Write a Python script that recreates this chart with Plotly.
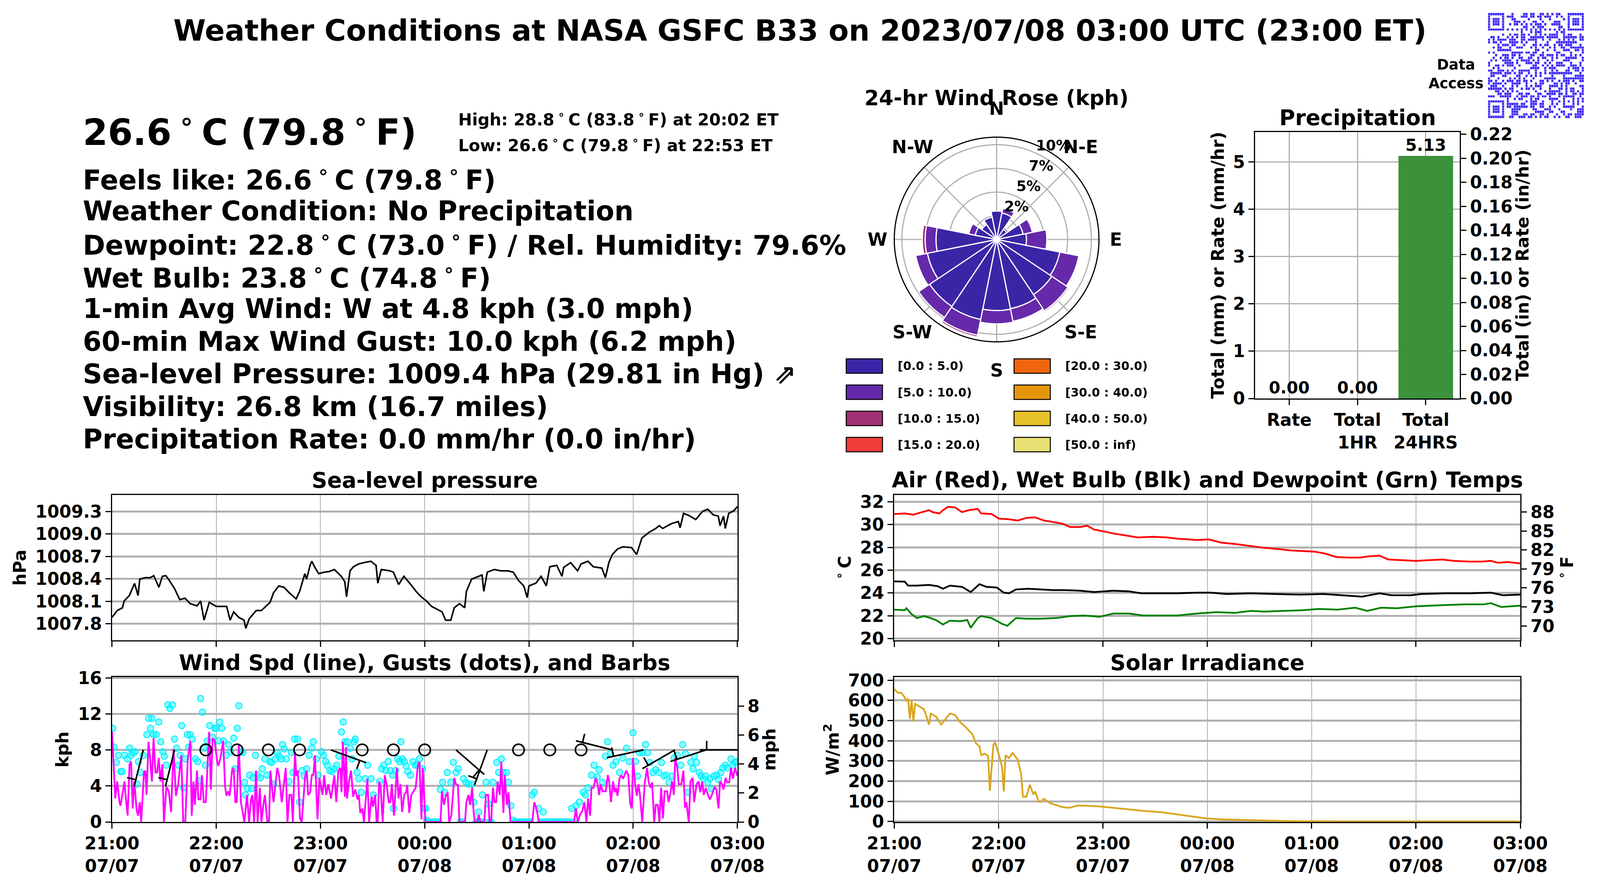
import math
import pandas as pd
import plotly.graph_objects as go

# the page is photographed in a 4096 px wide viewport; positions below are read
# off the 4500x2250 reference and mapped to paper fractions
W_REF, H = 4500, 2250
W = 4096
SX = W / W_REF
FS = 0.92  # font scale so horizontal text extents keep their proportions
FAM = "DejaVu Sans"
start = pd.Timestamp("2023-07-07 21:00")

# ---------------- data ----------------
p_min = [0, 3, 6, 7, 10, 13, 15, 16, 19, 22, 24, 27, 29, 31, 33, 36, 39, 42, 45, 49, 51, 53, 56, 60,
         63, 66, 68, 70, 73, 76, 77, 79, 83, 86, 91, 93, 96, 99, 102, 106, 108, 111, 112, 114, 115,
         117, 119, 122, 125, 128, 132, 134, 135, 137, 139, 142, 145, 149, 152, 153, 155, 160, 162,
         165, 168, 172, 175, 178, 181, 184, 187, 190, 192, 195, 197, 200, 203, 204, 207, 211, 213,
         214, 216, 220, 224, 228, 231, 234, 237, 239, 240, 244, 247, 250, 252, 256, 259, 260, 264,
         268, 270, 274, 277, 282, 284, 286, 288, 291, 294, 299, 302, 305, 309, 313, 315, 317, 322,
         326, 327, 329, 332, 336, 340, 343, 346, 349, 350, 352, 353, 355, 358, 360]
p_hpa = [1007.886, 1007.977, 1008.014, 1008.105, 1008.178, 1008.340, 1008.178, 1008.397, 1008.416,
         1008.416, 1008.443, 1008.288, 1008.434, 1008.443, 1008.379, 1008.270, 1008.123, 1008.142,
         1008.069, 1008.040, 1008.105, 1007.849, 1008.087, 1008.032, 1008.032, 1008.032, 1007.849,
         1007.959, 1007.886, 1007.849, 1007.740, 1007.868, 1007.977, 1007.977, 1008.087, 1008.215,
         1008.306, 1008.288, 1008.215, 1008.133, 1008.233, 1008.470, 1008.397, 1008.580, 1008.635,
         1008.544, 1008.470, 1008.489, 1008.498, 1008.525, 1008.434, 1008.361, 1008.160, 1008.507,
         1008.562, 1008.599, 1008.617, 1008.635, 1008.580, 1008.343, 1008.525, 1008.507, 1008.489,
         1008.324, 1008.434, 1008.324, 1008.233, 1008.160, 1008.105, 1008.032, 1007.996, 1007.959,
         1007.849, 1007.849, 1008.014, 1008.069, 1008.014, 1008.233, 1008.397, 1008.434, 1008.452,
         1008.233, 1008.489, 1008.525, 1008.507, 1008.507, 1008.489, 1008.379, 1008.306, 1008.151,
         1008.306, 1008.343, 1008.434, 1008.306, 1008.562, 1008.580, 1008.434, 1008.553, 1008.617,
         1008.507, 1008.599, 1008.635, 1008.562, 1008.544, 1008.416, 1008.617, 1008.726, 1008.799,
         1008.827, 1008.818, 1008.726, 1008.946, 1009.019, 1009.073, 1009.110, 1009.073, 1009.137,
         1009.165, 1009.083, 1009.274, 1009.247, 1009.192, 1009.302, 1009.329, 1009.256, 1009.238,
         1009.110, 1009.238, 1009.073, 1009.274, 1009.311, 1009.366]

wind_min = [0, 1.9, 3, 4.3, 4.9, 6, 7.2, 7.8, 9, 10.1, 11, 11.9, 12.8, 14.2, 15, 16, 16.8, 18.4, 19.2,
            19.9, 21, 21.9, 23, 23.9, 25, 26, 26.9, 27.9, 29, 29.9, 31.3, 32.7, 34, 35.4, 36.8, 38.1,
            39.9, 41, 42.2, 43.6, 45.1, 45.9, 46.9, 47.7, 48.9, 49.7, 50.9, 51.8, 52.8, 54, 55.9,
            56.9, 57.9, 59.1, 60.6, 61.2, 62.4, 64, 65.1, 65.9, 66.9, 67.7, 69.1, 70, 71, 71.8, 73,
            74.2, 75.1, 76.2, 77.7, 78.9, 80, 80.8, 81.8, 82.9, 83.8, 85.1, 86, 86.9, 88, 89.4, 90.4,
            91.2, 92.1, 93, 93.9, 95.1, 96.2, 97.7, 100, 101, 102.1, 103.3, 104.1, 105.3, 106.1, 107,
            108.2, 109.2, 111.2, 112.1, 112.9, 114.1, 115, 115.9, 116.8, 118.3, 119.4, 121.2, 122.1,
            123.3, 124.5, 126.1, 128, 129.1, 130.3, 131.5, 132.1, 132.9, 134.1, 134.7, 135.3, 136.4,
            137.6, 138.8, 140, 141.4, 142.1, 142.9, 144.1, 145, 147, 148, 149.4, 150.3, 151.5, 152.3,
            152.9, 153.8, 154.6, 155.8, 157, 158.1, 159.3, 160.2, 161.1, 162.3, 164, 164.9, 166, 167,
            168.2, 169.3, 169.9, 171.1, 172.3, 174, 174.8, 176, 177, 178.1, 178.9, 180.4,
            189.1, 189.9, 191.1, 192, 193.2, 194.1, 195.3, 197, 197.9, 199.1, 200, 203.2, 204, 205.2,
            206.1, 207.3, 208.2, 209, 210.2, 211.1, 212, 214.3, 215.2, 216.5, 217.3, 218.2, 219.3,
            220.2, 221.1, 222, 223.2, 224.1, 225.3, 226.1, 227.3, 228.2, 229.4, 241.9, 243.1, 244.3,
            245.8, 266, 267, 268.1, 269.6, 270.7, 271.9, 273.1, 274, 275.2, 276, 277.2, 278.4, 279.5,
            280.4, 281.3, 282.3, 284.2, 285.4, 286.2, 287.2, 288.4, 289.3, 290.1, 291, 292.1, 293.1,
            294.2, 296, 297.2, 298.3, 299.2, 299.9, 301.1, 302.1, 303, 303.9, 305.2, 306.6, 308, 308.9,
            310.1, 310.9, 312.1, 313, 314.2, 315.1, 316.1, 317.1, 318.1, 319.5, 320.4, 321.5, 322.4,
            323.4, 324.2, 325.4, 326.2, 327.7, 328.9, 329.8, 330.6, 332, 333, 334.2, 335.1, 336.5,
            337.7, 338.6, 339.8, 340.6, 341.8, 343, 344.2, 345.3, 346.9, 347.9, 349.1, 350, 351.2, 352,
            353.2, 354.1, 355.3, 356.3, 357.4, 358.6, 360]
wind_kph = [10.0, 2.6, 4.5, 2.2, 1.8, 3.0, 4.5, 3.0, 0.7, 6.4, 6.7, 1.5, 4.5, 1.3, 0.7, 2.2, 0, 5.5, 5.7,
            3.0, 8.9, 7.1, 4.5, 9.3, 5.5, 5.5, 7.1, 4.5, 6.4, 0, 3.9, 3.4, 1.1, 8.1, 2.9, 4.2,
            7.4, 0, 0, 7.0, 9.0, 0.7, 4.5, 1.9, 5.7, 2.5, 2.5, 5.2, 2.2, 2.2, 10.0,
            3.6, 9.3, 9.0, 6.7, 6.2, 7.1, 9.0, 3.9, 2.9, 3.4, 2.9, 5.7, 6.0, 2.2, 2.2, 8.6,
            2.2, 1.3, 0, 3.0, 0, 2.5, 3.0, 0, 5.7, 0, 3.8, 0, 1.6, 3.0, 0, 0,
            5.7, 3.8, 2.2, 3.8, 6.0, 5.1, 2.2, 6.0, 0, 3.0, 3.0, 0, 7.8, 5.1, 5.7,
            0.4, 0, 5.1, 5.7, 3.0, 3.3, 5.2, 5.2, 7.4, 0.3, 4.9, 3.0, 5.2,
            3.0, 4.2, 2.6, 5.2, 2.2, 5.7, 6.0, 3.3, 8.9, 2.8, 8.3, 2.6, 4.5,
            5.7, 2.8, 3.6, 2.5, 3.0, 1.0, 1.5, 0, 4.8, 0, 2.8, 1.7, 3.0, 0,
            0, 4.5, 3.9, 0, 5.2, 4.1, 2.2, 2.2, 4.2, 0.7, 6.0, 2.6, 4.2, 1.1,
            3.0, 3.3, 4.1, 1.0, 3.0, 3.6, 3.8, 6.2, 6.7, 0.3, 6.0, 0,
            0, 3.4, 1.9, 2.8, 3.3, 0, 0.7, 4.9, 4.2, 4.1, 0, 0, 2.2, 3.0,
            1.9, 3.8, 1.0, 0, 0, 0.8, 0, 0, 3.0, 3.0, 0, 0, 3.8,
            2.2, 2.2, 4.5, 3.0, 6.7, 1.0, 5.2, 1.9, 3.3, 0, 0, 2.2, 1.5,
            0, 0, 1.5, 0, 0.9, 1.2, 2.2, 0, 2.6, 0.7, 3.8, 3.8, 4.9, 4.2,
            3.0, 4.2, 3.4, 3.4, 5.2, 4.5, 2.2, 4.5, 3.3, 3.8, 2.9, 4.8, 5.2,
            4.8, 5.7, 5.2, 2.0, 1.5, 7.1, 4.2, 2.9, 4.2, 3.0, 0, 4.2, 6.0, 4.4,
            3.8, 4.4, 0, 1.9, 1.9, 0, 3.8, 0.4, 3.4, 3.4, 2.2, 3.3, 4.5,
            3.0, 7.1, 6.0, 4.2, 4.2, 5.7, 1.6, 2.2, 0, 4.5, 4.9, 2.2, 4.2,
            4.5, 3.3, 4.5, 3.0, 3.8, 3.0, 2.5, 3.0, 3.9, 3.6, 1.5, 4.5, 4.2, 3.6,
            4.9, 4.4, 4.4, 6.0, 4.8, 6.0, 5.1]

gust_min = [0.4, 1.3, 2.5, 3.7, 5.1, 5.8, 7.2, 9.0, 10.1, 11.0, 12.1, 13.3, 14.3, 15.2, 16.4, 18.0,
            20.1, 21.1, 22.2, 23.0, 23.9, 25.4, 26.9, 28.0, 29.3, 30.1, 31.3, 32.1, 33.3, 34.8, 36.0,
            37.2, 38.3, 39.2, 40.1, 41.3, 42.2, 43.4, 44.2, 45.1, 46.2, 48.1, 49.3, 50.3, 51.0, 52.1,
            53.0, 53.8, 54.8, 56.2, 57.9, 59.1, 60.0, 61.2, 62.0, 63.2, 64.2, 65.6, 67.1, 68.3, 70.1,
            70.6, 72.1, 73.0, 74.2, 75.3, 76.2, 76.8, 77.9, 79.2, 80.3, 81.2, 82.6, 83.8, 85.3, 86.5,
            88.0, 89.1, 90.9, 91.8, 93.0, 94.1, 95.1, 96.2, 97.4, 98.2, 99.2, 100.3, 101.8, 103.2,
            104.1, 105.1, 106.8, 108.0, 109.4, 110.6, 112.1, 113.5, 114.9, 115.9, 117.6, 118.8, 120.6,
            121.8, 123.0, 123.9, 125.3, 126.5, 127.9, 129.2, 130.6, 132.1, 133.1, 134.0, 135.5, 137.0,
            138.2, 139.4, 140.0, 141.1, 142.1, 143.5, 145.8, 147.2, 149.1, 150.5, 154.1, 155.2, 156.4,
            157.6, 159.0, 160.2, 161.5, 162.0, 163.2, 164.4, 165.6, 166.3, 167.2, 168.2, 169.3, 170.3,
            171.8, 173.2, 174.6, 175.8, 177.0, 178.7, 179.7, 180.5, 181.1, 182, 183, 184, 185, 186,
            187, 188, 189.1, 190.3, 191.4, 193.0, 195.0, 196.5, 198.1, 199.3, 200.5, 201.5, 202.4,
            203.8, 205.2, 207.3, 208.2, 209.5, 210.3, 211.1, 212, 213.2, 214.2, 215.3, 216.7, 217.5,
            218.3, 219.3, 221.4, 222.6, 224.1, 225.2, 227.0, 228.2, 229.6, 230.8, 232, 233, 234, 235,
            236, 237, 238, 239, 240, 241, 241.9, 243.1, 245.5, 246.5, 247.3, 248.2, 249, 250, 251, 252,
            253, 254, 255, 256, 257, 258, 259, 260, 261, 262, 263, 264.6, 265.5, 267.0, 269.0, 271.3,
            272.5, 274.0, 276.0, 277.5, 279.3, 280.4, 282.3, 284.0, 285.2, 286.9, 288.4, 290.1, 292.2,
            294.0, 296.2, 297.8, 299.9, 301.3, 302.5, 303.6, 305.4, 307.1, 308.3, 309.5, 311.3, 313.0,
            314.8, 316.3, 317.7, 319.1, 320.7, 322.4, 323.6, 325.4, 327.4, 328.5, 330.1, 331.6, 333.2,
            334.4, 335.3, 336.5, 338.0, 339.1, 340.3, 341.8, 343.0, 344.2, 345.1, 346.5, 348.0, 349.2,
            350.4, 351.6, 353.0, 354.1, 356.3, 357.4, 358.6, 359.4]
gust_kph = [10.4, 8.3, 6.6, 7.4, 5.6, 5.6, 7.4, 7.0, 8.2, 7.4, 7.7, 7.8, 4.2, 6.7, 5.5, 7.4,
            9.7, 11.5, 10.4, 11.5, 9.7, 9.7, 11.1, 8.9, 7.8, 7.3, 6.3, 13.0, 12.6, 13.0, 9.2,
            8.2, 6.3, 7.4, 10.7, 3.8, 7.0, 9.7, 8.3, 9.7, 9.2, 7.0, 6.7, 4.6, 13.7, 12.2,
            8.2, 6.3, 9.0, 10.7, 9.4, 10.4, 10.4, 9.0, 11.1, 10.4, 9.0, 7.4, 8.6, 7.8, 9.3,
            5.9, 10.4, 12.9, 7.8, 7.7, 4.4, 3.0, 3.7, 5.2, 3.7, 4.9, 7.4, 5.2, 4.9, 5.9,
            7.0, 5.2, 6.7, 6.6, 4.2, 7.0, 7.7, 7.3, 7.0, 8.6, 8.1, 7.0, 4.5, 7.7,
            5.5, 9.2, 9.2, 2.2, 5.7, 5.1, 5.9, 7.4, 8.2, 8.9, 7.0, 5.2, 7.8,
            7.4, 6.7, 6.3, 5.7, 5.6, 5.9, 6.3, 7.3, 10.0, 11.1, 8.9, 8.9, 8.2,
            7.0, 8.9, 9.2, 5.5, 4.8, 3.3, 4.8, 6.3, 4.8, 3.0, 4.5, 5.9, 6.3,
            5.7, 6.7, 5.7, 5.2, 1.5, 5.7, 7.0, 6.7, 8.9, 7.0, 6.7, 6.2, 5.6,
            5.2, 6.7, 6.3, 6.3, 7.0, 5.9, 1.5, 1.5, 0.2, 0, 0, 0, 0, 0,
            0, 0, 3.6, 4.4, 3.3, 5.5, 4.4, 6.6, 5.5, 5.9, 0, 0, 4.8,
            4.4, 4.2, 4.2, 2.2, 0, 0, 1.1, 0, 3.0, 0, 4.4, 2.0, 0,
            0, 4.4, 6.6, 5.5, 7.0, 5.5, 5.5, 4.4, 1.8, 0.2, 0, 0, 0, 0,
            0, 0, 0, 0, 0, 0, 3.0, 3.3, 1.5, 0, 0, 1.1, 0, 0, 0, 0,
            0, 0, 0, 0, 0, 0, 0, 0, 0, 0, 0, 1.5, 0, 1.8, 2.2, 3.3,
            3.0, 3.8, 5.2, 6.3, 5.0, 5.8, 4.4, 7.3, 8.9, 7.6, 6.3, 6.7, 5.5,
            7.1, 8.2, 6.7, 9.9, 6.7, 5.1, 7.7, 7.7, 8.6, 7.7, 6.6, 5.5, 5.8,
            5.5, 6.6, 5.1, 5.2, 4.4, 5.1, 7.1, 7.4, 6.3, 8.6, 7.6, 3.3, 6.6,
            5.9, 7.3, 6.6, 5.5, 5.1, 4.8, 5.1, 4.4, 4.8, 3.7, 5.1, 5.2, 4.7,
            5.5, 6.0, 6.3, 6.0, 7.0, 6.3, 6.6, 6.7]

barb_min = [18, 36, 54, 72, 90, 108, 126, 144, 162, 180, 198, 216, 234, 252, 270, 288, 306, 324, 342, 360]
barb_dir = [194, 194, None, None, None, None, 110, None, None, None, 131, 200, None, None, None,
            284, 258, 240, 252, 270]

air_min = [0, 6, 11, 15, 20, 22, 26, 28, 31, 35, 39, 43, 48, 50, 56, 60, 66, 71, 76, 81, 86, 91, 97,
           101, 107, 111, 115, 121, 126, 133, 140, 149, 157, 163, 174, 181, 188, 196, 205, 213, 221,
           228, 235, 242, 248, 254, 261, 268, 273, 279, 284, 291, 300, 307, 315, 322, 331, 338, 343,
           347, 353, 360]
air_c = [30.93, 30.98, 30.87, 31.04, 31.27, 31.10, 30.98, 31.27, 31.56, 31.50, 31.10, 31.27, 31.38,
         30.98, 30.93, 30.53, 30.47, 30.36, 30.59, 30.64, 30.36, 30.24, 30.07, 29.79, 29.79, 29.90,
         29.56, 29.39, 29.22, 29.05, 28.87, 28.93, 28.87, 28.76, 28.65, 28.70, 28.42, 28.30, 28.13,
         27.96, 27.85, 27.73, 27.68, 27.62, 27.45, 27.16, 27.11, 27.11, 27.22, 27.28, 26.94, 26.88,
         26.82, 26.88, 26.94, 26.82, 26.76, 26.76, 26.82, 26.65, 26.71, 26.59]
wetb_min = [0, 6, 8, 13, 20, 25, 28, 32, 39, 44, 49, 53, 59, 63, 66, 70, 77, 84, 91, 98, 107, 115, 126,
            135, 142, 151, 163, 174, 182, 191, 205, 219, 233, 247, 261, 269, 279, 286, 297, 303, 317,
            331, 343, 350, 360]
wetb_c = [25.02, 25.00, 24.65, 24.65, 24.71, 24.60, 24.37, 24.65, 24.54, 24.08, 24.77, 24.54, 24.48,
          24.03, 23.97, 24.31, 24.37, 24.31, 24.25, 24.25, 24.20, 24.08, 24.20, 24.14, 23.97, 23.97,
          23.97, 24.03, 24.03, 23.91, 23.97, 23.91, 23.86, 23.91, 23.74, 23.68, 23.97, 23.80, 23.80,
          23.91, 23.97, 23.97, 24.03, 23.80, 23.86]
dewp_min = [0, 6, 7, 10, 13, 17, 21, 24, 28, 32, 38, 42, 44, 48, 50, 56, 62, 65, 70, 76, 84, 93, 101,
            109, 118, 126, 135, 143, 151, 163, 174, 185, 196, 205, 213, 224, 235, 244, 255, 265, 272,
            280, 289, 300, 308, 317, 328, 339, 343, 349, 360]
dewp_c = [22.54, 22.49, 22.66, 22.14, 21.80, 21.97, 21.80, 21.63, 21.23, 21.57, 21.52, 21.63, 20.95,
          21.80, 21.97, 21.80, 21.29, 21.12, 21.80, 21.74, 21.74, 21.80, 21.97, 22.03, 21.91, 22.20,
          22.20, 22.03, 22.03, 22.03, 22.20, 22.32, 22.26, 22.43, 22.37, 22.43, 22.49, 22.60, 22.54,
          22.71, 22.43, 22.71, 22.66, 22.83, 22.89, 22.94, 23.00, 23.00, 23.11, 22.77, 22.89]

sol_min = [0, 2, 4, 6, 7, 8, 9, 10, 11, 12, 14, 17, 18, 20, 21, 24, 27, 29, 32, 35, 38, 41, 45, 47, 49,
           50, 52, 54, 55, 57, 58, 60, 62, 63, 64, 66, 68, 71, 73, 74, 76, 78, 80, 81, 83, 84, 86, 90,
           93, 97, 101, 105, 109, 118, 126, 135, 143, 154, 163, 171, 179, 188, 199, 210, 224, 240,
           261, 360]
sol_w = [657, 638, 638, 616, 598, 609, 509, 601, 495, 583, 572, 557, 535, 480, 535, 520, 480, 502, 535,
         528, 491, 469, 432, 388, 373, 329, 336, 325, 152, 380, 392, 336, 270, 149, 329, 314, 340,
         307, 233, 123, 123, 182, 134, 149, 101, 97, 112, 90, 82, 71, 68, 79, 79, 75, 68, 60, 53, 46,
         35, 27, 16, 11, 8, 5, 3, 1, 0, 0]

precip_cat = ["Rate", "Total<br>1HR", "Total<br>24HRS"]
precip_mm = [0.0, 0.0, 5.13]

rose_theta = [0, 22.5, 45, 67.5, 90, 112.5, 135, 157.5, 180, 202.5, 225, 247.5, 270, 292.5, 315, 337.5]
rose_bins = ["[0.0 : 5.0)", "[5.0 : 10.0)", "[10.0 : 15.0)", "[15.0 : 20.0)",
             "[20.0 : 30.0)", "[30.0 : 40.0)", "[40.0 : 50.0)", "[50.0 : inf)"]
rose_colors = ["#3b25a6", "#6529aa", "#a03174", "#ee3d37", "#f0650f", "#e5960b", "#e6c22b", "#e6e172"]
rose_pct = [
    [3.0, 2.85, 1.3, 2.85, 3.15, 6.8, 7.0, 7.45, 7.5, 8.6, 8.5, 7.45, 6.4, 2.3, 1.9, 2.4],
    [0, 0.5, 0.2, 1.0, 2.15, 2.05, 2.05, 1.35, 1.4, 1.7, 1.4, 1.25, 1.15, 0.7, 0, 0],
    [0, 0, 0, 0, 0, 0, 0.15, 0, 0, 0.2, 0, 0, 0.3, 0, 0, 0],
    [0] * 16, [0] * 16, [0] * 16, [0] * 16, [0] * 16,
]
rose_rticks = [2.5, 5, 7.5, 10]
rose_rlabels = ["2%", "5%", "7%", "10%"]
compass_deg = [0, 45, 90, 135, 180, 225, 270, 315]
compass_txt = ["N", "N-E", "E", "S-E", "S", "S-W", "W", "N-W"]

qr_rows = [
    [0, 1, 2, 3, 4, 5, 6, 10, 15, 16, 18, 19, 22, 23, 25, 27, 29, 30, 34, 35, 36, 37, 38, 39, 40],
    [0, 6, 8, 9, 10, 14, 15, 16, 18, 19, 21, 22, 24, 25, 26, 29, 31, 34, 40],
    [0, 2, 3, 4, 6, 10, 11, 17, 22, 26, 32, 34, 36, 37, 38, 40],
    [0, 2, 3, 4, 6, 11, 12, 13, 15, 19, 20, 23, 28, 29, 30, 34, 36, 37, 38, 40],
    [0, 2, 3, 4, 6, 9, 11, 12, 14, 16, 18, 20, 21, 22, 24, 27, 28, 29, 30, 34, 36, 37, 38, 40],
    [0, 6, 15, 16, 19, 21, 22, 23, 30, 31, 34, 40],
    [0, 1, 2, 3, 4, 5, 6, 8, 10, 12, 14, 16, 18, 20, 22, 24, 26, 28, 30, 32, 34, 35, 36, 37, 38, 39, 40],
    [14, 18, 20, 21, 22, 29, 31, 32],
    [6, 9, 11, 12, 14, 15, 17, 20, 22, 24, 26, 27, 28, 29, 32, 34, 35, 39],
    [1, 2, 4, 8, 10, 12, 14, 15, 18, 19, 20, 21, 22, 23, 25, 26, 27, 28, 29, 32, 33, 34, 35, 36, 37, 39, 40],
    [0, 2, 4, 5, 6, 7, 9, 10, 11, 14, 15, 17, 18, 19, 20, 23, 26, 30, 32, 34, 36, 39, 40],
    [0, 2, 3, 5, 9, 10, 11, 12, 14, 16, 20, 25, 29, 30, 31, 32, 33, 34, 35, 36, 37],
    [4, 6, 7, 8, 10, 11, 15, 19, 20, 22, 24, 25, 28, 30, 31, 33, 34, 35, 39],
    [2, 4, 5, 9, 12, 13, 14, 18, 20, 23, 26, 28, 31, 32, 35, 36, 37, 38, 39, 40],
    [4, 5, 6, 7, 8, 9, 20, 21, 25, 28, 32, 33, 34, 37, 38, 40],
    [0, 2, 10, 11, 12, 13, 14, 16, 17, 19, 20, 23, 29, 30, 35, 40],
    [3, 6, 7, 8, 10, 11, 13, 18, 19, 22, 23, 25, 26, 27, 29, 31, 32, 35, 37, 39],
    [2, 5, 7, 8, 10, 13, 14, 17, 18, 21, 23, 24, 27, 29, 33, 34, 35, 36, 37, 40],
    [1, 3, 6, 7, 8, 9, 12, 14, 15, 16, 17, 19, 21, 25, 27, 32, 33, 34, 40],
    [0, 7, 8, 9, 10, 12, 16, 17, 18, 20, 21, 24, 26, 29, 30, 31, 35, 39],
    [0, 3, 4, 6, 8, 9, 10, 13, 19, 20, 23, 25, 27, 29, 30, 31, 32, 35, 36, 37, 39],
    [2, 4, 11, 18, 19, 20, 21, 24, 26, 27, 28, 34, 36, 37, 38, 40],
    [0, 1, 4, 5, 6, 8, 10, 13, 14, 15, 16, 17, 20, 24, 27, 29, 33, 34, 37, 38, 40],
    [1, 2, 3, 4, 5, 7, 8, 9, 11, 13, 14, 17, 20, 22, 24, 26, 27, 28, 29, 30, 31, 32, 33, 34, 35, 39],
    [1, 2, 6, 7, 12, 13, 16, 18, 20, 22, 27, 32, 37, 38, 39, 40],
    [0, 4, 9, 11, 13, 15, 19, 24, 25, 26, 27, 28, 32, 33, 34, 35, 36, 37, 38, 39, 40],
    [0, 1, 3, 6, 8, 9, 10, 12, 13, 15, 16, 18, 22, 23, 25, 27, 30, 32, 33, 34, 36, 39, 40],
    [0, 2, 3, 4, 5, 7, 10, 11, 12, 13, 16, 20, 22, 23, 28, 29, 31, 33, 34, 37],
    [1, 2, 3, 6, 10, 12, 16, 18, 20, 21, 22, 26, 27, 28, 29, 31, 33, 39, 40],
    [0, 1, 2, 3, 4, 5, 7, 9, 10, 14, 16, 17, 19, 22, 26, 30, 31, 33, 35, 36, 40],
    [3, 4, 6, 8, 10, 12, 20, 24, 26, 27, 28, 29, 30, 33, 35, 36, 38, 40],
    [4, 5, 7, 8, 9, 13, 14, 16, 17, 21, 22, 25, 26, 27, 28, 30, 31, 33, 36, 37, 39, 40],
    [0, 1, 2, 5, 6, 7, 8, 9, 12, 14, 15, 16, 18, 19, 21, 23, 24, 26, 30, 32, 33, 34, 35, 36, 39],
    [8, 11, 13, 14, 18, 20, 21, 26, 27, 28, 29, 32, 36, 38, 40],
    [0, 1, 2, 3, 4, 5, 6, 8, 16, 18, 19, 20, 23, 27, 30, 32, 34, 36, 38, 40],
    [0, 6, 8, 9, 10, 11, 12, 14, 15, 18, 19, 20, 22, 23, 27, 29, 32, 36, 38],
    [0, 2, 3, 4, 6, 8, 9, 11, 12, 13, 14, 15, 16, 18, 19, 22, 23, 26, 28, 32, 33, 34, 35, 36, 40],
    [0, 2, 3, 4, 6, 10, 11, 12, 13, 19, 20, 24, 25, 26, 30, 35, 38, 39, 40],
    [0, 2, 3, 4, 6, 10, 11, 12, 20, 21, 22, 23, 26, 27, 31, 32, 38, 39, 40],
    [0, 6, 10, 11, 12, 15, 16, 18, 19, 22, 23, 25, 29, 32, 34, 35, 37, 38, 39, 40],
    [0, 1, 2, 3, 4, 5, 6, 9, 10, 13, 14, 15, 17, 18, 20, 22, 24, 25, 28, 30, 33, 34, 37, 38, 39],
]

# matplotlib-style superscript degree with its surrounding gaps
DEG = "\u2009<sup>∘</sup>\u2009"
big_temp = f"26.6{DEG}C (79.8{DEG}F)"
hi_lo = [f"High: 28.8{DEG}C (83.8{DEG}F) at 20:02 ET", f"Low: 26.6{DEG}C (79.8{DEG}F) at 22:53 ET"]
info_lines = [
    f"Feels like: 26.6{DEG}C (79.8{DEG}F)",
    "Weather Condition: No Precipitation",
    f"Dewpoint: 22.8{DEG}C (73.0{DEG}F) / Rel. Humidity: 79.6%",
    f"Wet Bulb: 23.8{DEG}C (74.8{DEG}F)",
    "1-min Avg Wind: W at 4.8 kph (3.0 mph)",
    "60-min Max Wind Gust: 10.0 kph (6.2 mph)",
    "Sea-level Pressure: 1009.4 hPa (29.81 in Hg) ⇗",
    "Visibility: 26.8 km (16.7 miles)",
    "Precipitation Rate: 0.0 mm/hr (0.0 in/hr)",
]


def t(mins):
    return [start + pd.Timedelta(minutes=m) for m in mins]


def F(size, color="black"):
    return dict(family=FAM, size=round(size * FS, 1), color=color, weight="bold")


def dxp(a, b):
    return [a / W_REF, b / W_REF]


def dyp(top, bottom):
    return [1 - bottom / H, 1 - top / H]


GRID = "#b0b0b0"
hours = [start + pd.Timedelta(hours=h) for h in range(7)]
hour_txt = [h.strftime("%H:%M<br>%m/%d") for h in hours]
t_range = [start, start + pd.Timedelta(hours=6)]


def time_axis(dom, anchor, labels):
    return dict(domain=dom, anchor=anchor, range=t_range, tickvals=hours, ticktext=hour_txt,
                showticklabels=labels, showgrid=True, gridcolor=GRID, gridwidth=2.3,
                showline=True, linecolor="black", linewidth=3, mirror=True,
                ticks="outside", ticklen=14, tickwidth=3, tickcolor="black",
                tickfont=F(48), zeroline=False, automargin=False)


def val_axis(dom, anchor, rng, title, **kw):
    d = dict(domain=dom, anchor=anchor, range=rng, showgrid=True, gridcolor=GRID, gridwidth=4.5,
             showline=True, linecolor="black", linewidth=3, mirror=True,
             ticks="outside", ticklen=14, tickwidth=3, tickcolor="black",
             tickfont=F(48), zeroline=False, automargin=False,
             title=dict(text=title, font=F(48), standoff=10))
    d.update(kw)
    return d


def right_axis(over, anchor, rng, title, **kw):
    d = dict(overlaying=over, anchor=anchor, side="right", range=rng, showgrid=False,
             showline=True, linecolor="black", linewidth=3,
             ticks="outside", ticklen=14, tickwidth=3, tickcolor="black",
             tickfont=F(48), zeroline=False, automargin=False,
             title=dict(text=title, font=F(48), standoff=10))
    d.update(kw)
    return d


L_X = (315, 2074)
R_X = (2515, 4276)
TOP_ROW = (1267, 1639)
BOT_ROW = (1733, 2104)
ROSE_C, ROSE_MAX = (2803, 613), 10.8
ROSE_PX = 262          # rose radius in screen pixels
LABEL_R = 335          # compass label distance (reference pixels)

fig = go.Figure()

fig.add_trace(go.Scatter(x=t(p_min), y=p_hpa, mode="lines", line=dict(color="black", width=4),
                         xaxis="x", yaxis="y", showlegend=False, hoverinfo="skip"))

fig.add_trace(go.Scatter(x=t(gust_min), y=gust_kph, mode="markers",
                         marker=dict(size=16, color="rgba(0,255,255,0.45)",
                                     line=dict(color="rgba(0,235,255,0.95)", width=2.5)),
                         xaxis="x2", yaxis="y2", showlegend=False, hoverinfo="skip"))
fig.add_trace(go.Scatter(x=t(wind_min), y=wind_kph, mode="lines", line=dict(color="#ff00ff", width=4.5),
                         xaxis="x2", yaxis="y2", showlegend=False, hoverinfo="skip"))
fig.add_trace(go.Scatter(x=t(wind_min), y=[v / 1.60934 for v in wind_kph], mode="lines", opacity=0,
                         xaxis="x2", yaxis="y3", showlegend=False, hoverinfo="skip"))

# wind barbs drawn in screen pixels, converted to data units of the wind axes
WIND_TOP = 16.09
min_per_px = 360 / ((L_X[1] - L_X[0]) * SX)
kph_per_px = WIND_TOP / (BOT_ROW[1] - BOT_ROW[0])
STAFF, TICK = 96, 23
bx, by, calm = [], [], []
for m, d in zip(barb_min, barb_dir):
    if d is None:
        calm.append(m)
        continue
    ux, uy = math.sin(math.radians(d)), -math.cos(math.radians(d))
    pts = [(0, 0), (STAFF * ux, STAFF * uy), None,
           (0.82 * STAFF * ux, 0.82 * STAFF * uy),
           (0.82 * STAFF * ux - TICK * uy, 0.82 * STAFF * uy + TICK * ux), None]
    for p in pts:
        if p is None:
            bx.append(None)
            by.append(None)
        else:
            bx.append(start + pd.Timedelta(minutes=m + p[0] * min_per_px))
            by.append(8 - p[1] * kph_per_px)
fig.add_trace(go.Scatter(x=bx, y=by, mode="lines", line=dict(color="black", width=4),
                         xaxis="x2", yaxis="y2", showlegend=False, hoverinfo="skip", cliponaxis=False))
fig.add_trace(go.Scatter(x=t(calm), y=[8] * len(calm), mode="markers",
                         marker=dict(symbol="circle-open", size=29, color="black", line=dict(width=4)),
                         xaxis="x2", yaxis="y2", showlegend=False, hoverinfo="skip"))

fig.add_trace(go.Scatter(x=t(air_min), y=air_c, mode="lines", line=dict(color="#ff0000", width=4.5),
                         xaxis="x3", yaxis="y4", showlegend=False, hoverinfo="skip"))
fig.add_trace(go.Scatter(x=t(wetb_min), y=wetb_c, mode="lines", line=dict(color="black", width=4.5),
                         xaxis="x3", yaxis="y4", showlegend=False, hoverinfo="skip"))
fig.add_trace(go.Scatter(x=t(dewp_min), y=dewp_c, mode="lines", line=dict(color="#008000", width=4.5),
                         xaxis="x3", yaxis="y4", showlegend=False, hoverinfo="skip"))
fig.add_trace(go.Scatter(x=t(air_min), y=[c * 1.8 + 32 for c in air_c], mode="lines", opacity=0,
                         xaxis="x3", yaxis="y5", showlegend=False, hoverinfo="skip"))

fig.add_trace(go.Scatter(x=t(sol_min), y=sol_w, mode="lines", line=dict(color="#daa520", width=4.5),
                         xaxis="x4", yaxis="y6", showlegend=False, hoverinfo="skip"))

fig.add_trace(go.Bar(x=precip_cat, y=precip_mm, marker=dict(color="#3b923b", line=dict(width=0)),
                     width=0.8, text=[f"{v:.2f}" for v in precip_mm], textposition="outside",
                     textfont=F(46), cliponaxis=False, xaxis="x5", yaxis="y7", showlegend=False,
                     hoverinfo="skip"))
fig.add_trace(go.Scatter(x=precip_cat, y=[v / 25.4 for v in precip_mm], mode="markers", opacity=0,
                         xaxis="x5", yaxis="y8", showlegend=False, hoverinfo="skip"))

for lab, col, vals in zip(rose_bins, rose_colors, rose_pct):
    fig.add_trace(go.Barpolar(r=vals, theta=rose_theta, width=22.5, name=lab,
                              marker=dict(color=col, line=dict(color="white", width=3)),
                              showlegend=False, hoverinfo="skip"))

qr_z = [[1 if c in row else 0 for c in range(41)] for row in qr_rows]
fig.add_trace(go.Heatmap(z=qr_z, colorscale=[[0, "white"], [1, "#3a28f7"]], showscale=False,
                         xgap=0.7, ygap=0.7, xaxis="x6", yaxis="y9", hoverinfo="skip"))

fig.update_layout(
    width=W, height=H, margin=dict(l=0, r=0, t=0, b=0),
    paper_bgcolor="white", plot_bgcolor="white",
    font=F(48),
    title=dict(text="Weather Conditions at NASA GSFC B33 on 2023/07/08 03:00 UTC (23:00 ET)",
               x=0.5, xanchor="center", y=1 - 78 / H, yanchor="middle", font=F(82)),
    xaxis=time_axis(dxp(*L_X), "y", False),
    yaxis=val_axis(dyp(*TOP_ROW), "x", [1007.58, 1009.52], "hPa",
                   tickvals=[1007.8, 1008.1, 1008.4, 1008.7, 1009.0, 1009.3], tickformat=".1f"),
    xaxis2=time_axis(dxp(*L_X), "y2", True),
    yaxis2=val_axis(dyp(*BOT_ROW), "x2", [0, WIND_TOP], "kph", dtick=4),
    yaxis3=right_axis("y2", "x2", [0, WIND_TOP / 1.60934], "mph", dtick=2),
    xaxis3=time_axis(dxp(*R_X), "y4", False),
    yaxis4=val_axis(dyp(*TOP_ROW), "x3", [19.85, 32.6], "<sup>∘</sup>\u2009C", dtick=2),
    yaxis5=right_axis("y4", "x3", [19.85 * 1.8 + 32, 32.6 * 1.8 + 32], "<sup>∘</sup>\u2009F",
                      tickvals=[70, 73, 76, 79, 82, 85, 88]),
    xaxis4=time_axis(dxp(*R_X), "y6", True),
    yaxis6=val_axis(dyp(*BOT_ROW), "x4", [-2, 716], "W/m<sup>2</sup>", dtick=100),
    xaxis5=dict(domain=dxp(3530, 4106), anchor="y7", type="category", showgrid=True, gridcolor=GRID,
                gridwidth=2.5, showline=True, linecolor="black", linewidth=3, mirror=True,
                ticks="outside", ticklen=14, tickwidth=3, tickcolor="black", tickfont=F(48),
                automargin=False),
    yaxis7=val_axis(dyp(338, 1020), "x5", [0, 5.634], "Total (mm) or Rate (mm/hr)", dtick=1,
                    gridwidth=2.5),
    yaxis8=right_axis("y7", "x5", [0, 5.634 / 25.4], "Total (in) or Rate (in/hr)",
                      dtick=0.02, tickformat=".2f"),
    xaxis6=dict(domain=dxp(4185, 4455), anchor="y9", visible=False, range=[-0.5, 40.5]),
    yaxis9=dict(domain=dyp(33, 303), anchor="x6", visible=False, range=[40.5, -0.5]),
    polar=dict(
        domain=dict(x=dxp(ROSE_C[0] - ROSE_PX / SX, ROSE_C[0] + ROSE_PX / SX),
                    y=dyp(ROSE_C[1] - ROSE_PX, ROSE_C[1] + ROSE_PX)),
        bgcolor="white", bargap=0, barmode="stack",
        radialaxis=dict(range=[0, ROSE_MAX], tickvals=rose_rticks, showticklabels=False,
                        showline=False, ticks="", gridcolor=GRID, gridwidth=3),
        angularaxis=dict(direction="clockwise", rotation=90, tickvals=compass_deg,
                         showticklabels=False, ticks="",
                         gridcolor=GRID, gridwidth=3, linecolor="black", linewidth=3),
    ),
)

ann = []


def text(x, y, s, size, anchor="left", **kw):
    d = dict(x=x / W_REF, y=1 - y / H, xref="paper", yref="paper", text=s, showarrow=False,
             xanchor=anchor, yanchor="middle", font=F(size))
    d.update(kw)
    ann.append(d)


text(sum(L_X) / 2, 1229, "Sea-level pressure", 60, "center")
text(sum(L_X) / 2, 1696, "Wind Spd (line), Gusts (dots), and Barbs", 60, "center")
text(sum(R_X) / 2, 1228, "Air (Red), Wet Bulb (Blk) and Dewpoint (Grn) Temps", 60, "center")
text(sum(R_X) / 2, 1696, "Solar Irradiance", 60, "center")
text(3818, 301, "Precipitation", 60, "center")
text(2803, 250, "24-hr Wind Rose (kph)", 58, "center")
text(4095, 190, "Data<br>Access", 40, "center")

# compass labels around the wind rose
for deg, lab in zip(compass_deg, compass_txt):
    a = math.radians(deg)
    text(ROSE_C[0] + LABEL_R * math.sin(a), ROSE_C[1] - LABEL_R * math.cos(a), lab, 50, "center")

# radial labels of the wind rose, just outside each ring
for rv, lab in zip(rose_rticks, rose_rlabels):
    rp = rv / ROSE_MAX * ROSE_PX + 38
    a = math.radians(59)
    text(ROSE_C[0] + rp * math.cos(a) / SX, ROSE_C[1] - rp * math.sin(a), lab, 40, "center")

text(231, 332, big_temp, 100)
text(1287, 303, hi_lo[0], 46)
text(1287, 369, hi_lo[1], 46)
for i, line in enumerate(info_lines):
    text(231, 456 + 83.5 * i, line, 75)

shapes = []
for i, (lab, col) in enumerate(zip(rose_bins, rose_colors)):
    c, r = divmod(i, 4)
    x0 = 2380 + 472 * c
    yc = 937 + 67 * r
    shapes.append(dict(type="rect", xref="paper", yref="paper", x0=x0 / W_REF, x1=(x0 + 102) / W_REF,
                       y0=1 - (yc + 18.5) / H, y1=1 - (yc - 18.5) / H, fillcolor=col,
                       line=dict(color="black", width=2.5)))
    text(x0 + 142, yc, lab, 33)

fig.update_layout(annotations=ann, shapes=shapes)

fig.write_html("out.html", config={"displayModeBar": False},
               post_script="document.body.style.margin='0';")
